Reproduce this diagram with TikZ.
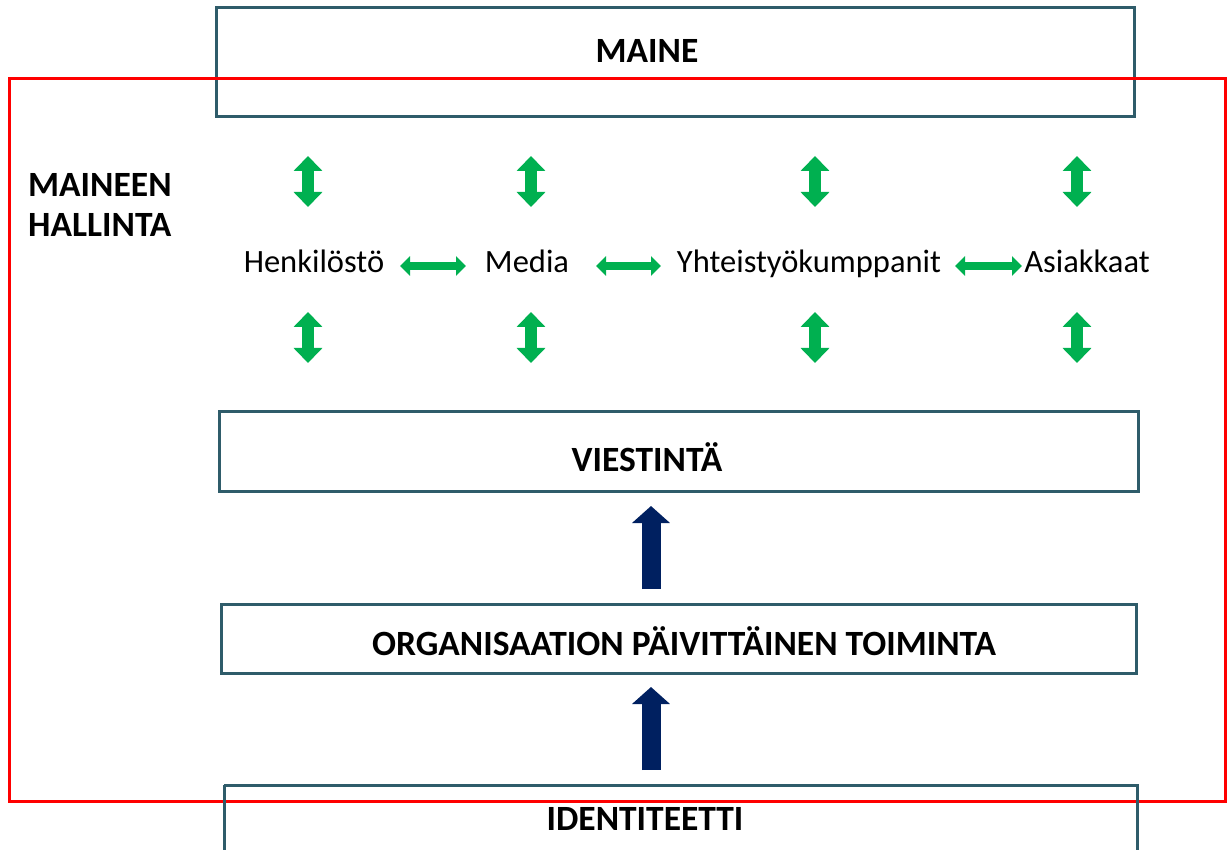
\documentclass[tikz,border=0pt]{standalone}
\usepackage{fontspec}
\setmainfont{Carlito}
\usetikzlibrary{arrows.meta}
\definecolor{boxline}{RGB}{47,92,106}
\definecolor{frame}{RGB}{255,0,0}
\definecolor{linkgreen}{RGB}{0,176,80}
\definecolor{flownavy}{RGB}{0,32,96}
\tikzset{
  panel/.style={draw=boxline, line width=3pt, fill=none},
  zone/.style={draw=frame, line width=3pt},
  title/.style={font=\fontsize{35.5}{40}\selectfont\bfseries, inner sep=0pt, anchor=base},
  party/.style={font=\fontsize{32.5}{38}\selectfont, inner sep=0pt, anchor=base},
  vlink/.style={draw=linkgreen, line width=12pt,
    {Triangle[width=28pt,length=15pt]}-{Triangle[width=28pt,length=15pt]}},
  hlink/.style={draw=linkgreen, line width=8pt,
    {Triangle[width=19pt,length=10pt]}-{Triangle[width=19pt,length=10pt]}},
  flow/.style={draw=flownavy, line width=19pt, -{Triangle[width=37pt,length=17pt]}},
}
\begin{document}
\begin{tikzpicture}[x=1pt,y=-1pt]
  \useasboundingbox (0,0) rectangle (1232,850);

  % layer boxes
  \draw[panel] (216,8) rectangle (1134,117);
  \node[title] (maine) at (647,63) {MAINE};

  % reputation management zone
  \draw[zone] (9,79) rectangle (1225,801);
  \node[title, anchor=base west] (mhl1) at (28,197) {MAINEEN};
  \node[title, anchor=base west] (mhl2) at (28,237) {HALLINTA};

  \draw[panel] (219,411) rectangle (1138,491);
  \node[title] (viestinta) at (647,471) {VIESTINTÄ};

  \draw[panel] (221,604) rectangle (1136,673);
  \node[title] (toiminta) at (684,655) {ORGANISAATION PÄIVITTÄINEN TOIMINTA};

  \draw[panel] (224,785) -- (224,860) (224,785) -- (1137,785) -- (1137,860);
  \node[title] (identiteetti) at (645,830) {IDENTITEETTI};

  % stakeholders
  \node[party] (henk) at (314,273) {Henkilöstö};
  \node[party] (media) at (527,273) {Media};
  \node[party] (yht) at (809,273) {Yhteistyökumppanit};
  \node[party] (asiak) at (1087,273) {Asiakkaat};

  % links between stakeholders
  \coordinate (hm1) at (400,266); \coordinate (hm2) at (466,266);
  \coordinate (my1) at (596,266); \coordinate (my2) at (661,266);
  \coordinate (ya1) at (955,266); \coordinate (ya2) at (1022,266);
  \draw[hlink] (hm1) -- (hm2);
  \draw[hlink] (my1) -- (my2);
  \draw[hlink] (ya1) -- (ya2);

  % links up to reputation and down to communication
  \foreach \i/\x in {1/308,2/531,3/815,4/1077}{
    \coordinate (up\i a) at (\x,156); \coordinate (up\i b) at (\x,207);
    \coordinate (dn\i a) at (\x,312); \coordinate (dn\i b) at (\x,363);
    \draw[vlink] (up\i a) -- (up\i b);
    \draw[vlink] (dn\i a) -- (dn\i b);
  }

  % identity -> daily operations -> communication
  \coordinate (f1a) at (651,770); \coordinate (f1b) at (651,687);
  \coordinate (f2a) at (651,589); \coordinate (f2b) at (651,506);
  \draw[flow] (f1a) -- (f1b);
  \draw[flow] (f2a) -- (f2b);
\end{tikzpicture}
\end{document}
